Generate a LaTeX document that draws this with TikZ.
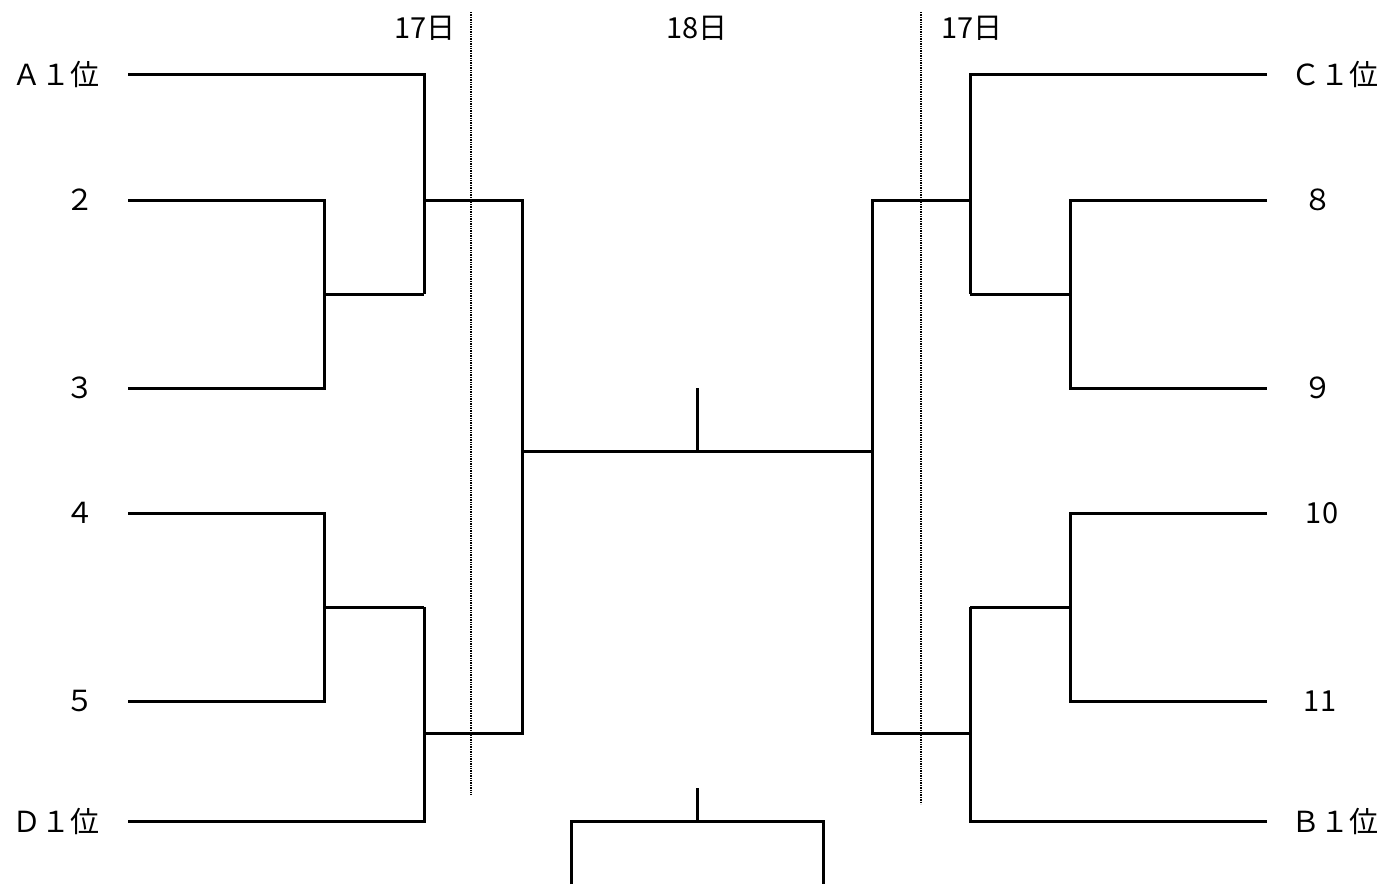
\documentclass[tikz,border=0pt]{standalone}
\usepackage{fontspec}
\setmainfont{Noto Sans CJK JP}
\begin{document}
\begin{tikzpicture}[x=1pt,y=-1pt,
  br/.style={line width=3pt,line cap=butt,line join=miter},
  day/.style={densely dotted,line width=1.4pt},
  lab/.style={font=\fontsize{29}{29}\selectfont,inner sep=0pt,anchor=center}]
\useasboundingbox (0,0) rectangle (1390,884);
% labels left
\node[lab] (a1) at (56,74) {Ａ１位};
\node[lab] (l2) at (80,200) {２};
\node[lab] (l3) at (80,388) {３};
\node[lab] (l4) at (80,513) {４};
\node[lab] (l5) at (80,701) {５};
\node[lab] (d1) at (56,821) {Ｄ１位};
% labels right
\node[lab] (c1) at (1335,74) {Ｃ１位};
\node[lab] (r8) at (1318,200) {８};
\node[lab] (r9) at (1318,388) {９};
\node[lab] (r10) at (1322,513) {10};
\node[lab] (r11) at (1320,701) {11};
\node[lab] (b1) at (1335,821) {Ｂ１位};
% day labels
\node[lab] (dl) at (425,28) {17日};
\node[lab] (dm) at (697,28) {18日};
\node[lab] (dr) at (972,28) {17日};
% coordinates
\coordinate (pA) at (128,74);  \coordinate (p2) at (128,200);
\coordinate (p3) at (128,388); \coordinate (p4) at (128,513);
\coordinate (p5) at (128,701); \coordinate (pD) at (128,821);
\coordinate (pC) at (1267,74); \coordinate (p8) at (1267,200);
\coordinate (p9) at (1267,388); \coordinate (p10) at (1267,513);
\coordinate (p11) at (1267,701); \coordinate (pB) at (1267,821);
% left bracket
\draw[br] (p2) -- (324,200) -- (324,388) -- (p3);
\draw[br] (324,294) -- (424,294);
\draw[br] (pA) -- (424,74) -- (424,294);
\draw[br] (p4) -- (324,513) -- (324,701) -- (p5);
\draw[br] (324,607) -- (424,607);
\draw[br] (pD) -- (424,821) -- (424,607);
\draw[br] (424,200) -- (522,200) -- (522,733) -- (424,733);
% right bracket
\draw[br] (p8) -- (1070,200) -- (1070,388) -- (p9);
\draw[br] (1070,294) -- (970,294);
\draw[br] (pC) -- (970,74) -- (970,294);
\draw[br] (p10) -- (1070,513) -- (1070,701) -- (p11);
\draw[br] (1070,607) -- (970,607);
\draw[br] (pB) -- (970,821) -- (970,607);
\draw[br] (970,200) -- (872,200) -- (872,733) -- (970,733);
% final
\draw[br] (522,451) -- (872,451);
\draw[br] (697,451) -- (697,388);
% bottom
\draw[br] (697,788) -- (697,821);
\draw[br] (571,884) -- (571,821) -- (823,821) -- (823,884);
% day lines
\draw[day] (471,12) -- (471,795);
\draw[day] (921,12) -- (921,804);
\end{tikzpicture}
\end{document}
